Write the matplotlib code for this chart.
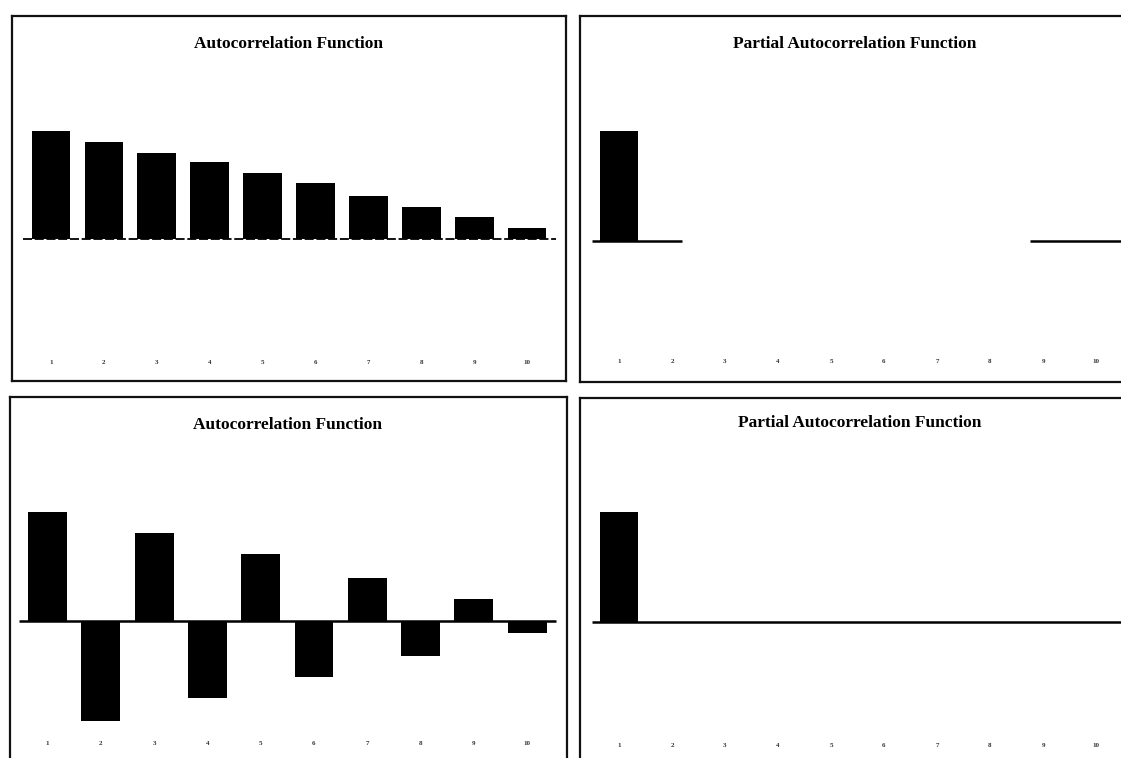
import matplotlib
matplotlib.use("Agg")
import matplotlib.pyplot as plt
import matplotlib.transforms as mtransforms

# ---- data ----
lags = [1, 2, 3, 4, 5, 6, 7, 8, 9, 10]
lag_labels = ["1", "2", "3", "4", "5", "6", "7", "8", "9", "10"]
acf_top = [0.90, 0.81, 0.72, 0.64, 0.55, 0.47, 0.36, 0.27, 0.18, 0.09]
pacf_top = [0.92, 0, 0, 0, 0, 0, 0, 0, 0, 0]
acf_bottom = [0.91, -0.83, 0.73, -0.64, 0.56, -0.47, 0.36, -0.29, 0.18, -0.10]
pacf_bottom = [0.92, 0, 0, 0, 0, 0, 0, 0, 0, 0]
titles = ["Autocorrelation Function", "Partial Autocorrelation Function",
          "Autocorrelation Function", "Partial Autocorrelation Function"]

W, H = 1121, 758
fig = plt.figure(figsize=(W / 100, H / 100), dpi=100)
fig.patch.set_facecolor("white")

PX_PER_UNIT = 120.0

# panel layout in pixels: x0, x1, y0, y1, first-lag centre, spacing, zero y
panels = [
    dict(box=(12, 566, 16, 381), c1=51, s=52.9, z=239, vals=acf_top, title=titles[0],
         tx=0.5, ty=0.923, ly=0.052, zero=[(0.47, 10.55)], zls=(0, (5, 1.5)), zlw=1.3, zz=1),
    dict(box=(580, 1130, 16, 382), c1=619, s=53.0, z=241, vals=pacf_top, title=titles[1],
         tx=0.5, ty=0.923, ly=0.055, zero=[(0.49, 2.19), (8.75, 11.5)], zls="-", zlw=1.8, zz=3),
    dict(box=(10, 567, 397, 770), c1=47.5, s=53.3, z=621, vals=acf_bottom, title=titles[2],
         tx=0.499, ty=0.925, ly=0.072, zero=[(0.47, 10.54)], zls="-", zlw=1.8, zz=3),
    dict(box=(580, 1130, 398, 770), c1=619, s=53.0, z=622, vals=pacf_bottom, title=titles[3],
         tx=0.509, ty=0.933, ly=0.067, zero=[(0.49, 11.5)], zls="-", zlw=1.8, zz=3),
]

for p in panels:
    x0, x1, y0, y1 = p["box"]
    ax = fig.add_axes([x0 / W, 1 - y1 / H, (x1 - x0) / W, (y1 - y0) / H])
    c1, s, z = p["c1"], p["s"], p["z"]
    ax.set_xlim(1 - (c1 - x0) / s, 1 + (x1 - c1) / s)
    ax.set_ylim(-(y1 - z) / PX_PER_UNIT, (z - y0) / PX_PER_UNIT)
    ax.bar(lags, p["vals"], width=0.73, color="black", linewidth=0, zorder=2)
    for a, b in p["zero"]:
        ax.hlines(0, a, b, colors="black", linewidth=p["zlw"], linestyles=p["zls"], zorder=p["zz"])
    ax.set_xticks([])
    ax.set_yticks([])
    for sp in ax.spines.values():
        sp.set_linewidth(1.6)
        sp.set_color("#111111")
    ax.text(p["tx"], p["ty"], p["title"], transform=ax.transAxes, ha="center", va="center",
            fontsize=12.5, fontweight="bold", family="Liberation Serif", color="black")
    trans = mtransforms.blended_transform_factory(ax.transData, ax.transAxes)
    for lag, lab in zip(lags, lag_labels):
        ax.text(lag, p["ly"], lab, transform=trans, ha="center", va="center",
                fontsize=5, fontweight="bold", color="#333333", family="Liberation Serif")

fig.savefig("out.png", dpi=100, facecolor="white")
